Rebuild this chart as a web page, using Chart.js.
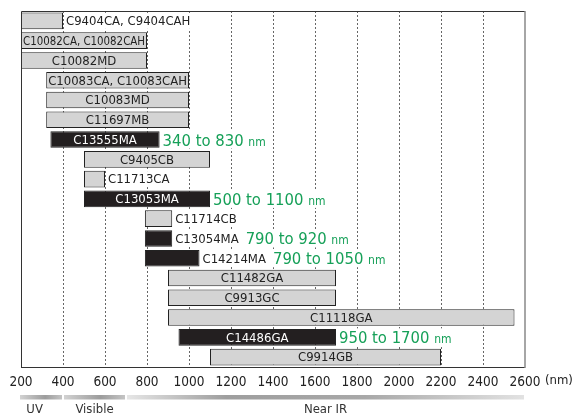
<!DOCTYPE html>
<html lang="en">
<head>
  <meta charset="UTF-8" />
  <title>Wavelength ranges</title>
  <script src="https://cdn.jsdelivr.net/npm/chart.js@4"></script>
  <style>
    body { margin: 0; background: #fff; }
    canvas { display: block; }
  </style>
</head>
<body>
  <canvas id="grafico" width="577" height="418"></canvas>

  <script>
    // data (nm)
    const products = ['C9404CA, C9404CAH', 'C10082CA, C10082CAH', 'C10082MD', 'C10083CA, C10083CAH',
      'C10083MD', 'C11697MB', 'C13555MA', 'C9405CB', 'C11713CA', 'C13053MA', 'C11714CB',
      'C13054MA', 'C14214MA', 'C11482GA', 'C9913GC', 'C11118GA', 'C14486GA', 'C9914GB'];
    const rangeStart = [200, 200, 200, 320, 320, 320, 340, 500, 500, 500, 790, 790, 790, 900, 900, 900, 950, 1100];
    const rangeEnd = [400, 800, 800, 1000, 1000, 1000, 860, 1100, 600, 1100, 920, 920, 1050, 1700, 1700, 2550, 1700, 2200];
    const isDark = [0, 0, 0, 0, 0, 0, 1, 0, 0, 1, 0, 1, 1, 0, 0, 0, 1, 0];
    const rangeNotes = ['', '', '', '', '', '', '340 to 830', '', '', '500 to 1100', '', '790 to 920',
      '790 to 1050', '', '', '', '950 to 1700', ''];
    const xTicks = [200, 400, 600, 800, 1000, 1200, 1400, 1600, 1800, 2000, 2200, 2400, 2600];
    const bandNames = ['UV', 'Visible', 'Near IR'];
    const bandFrom = [200, 400, 700];
    const bandTo = [400, 700, 2600];

    const FONT = '"DejaVu Sans Condensed", "DejaVu Sans", sans-serif';
    const GREEN = '#16a058';

    const etiquetas = {
      id: 'etiquetas',
      afterDatasetsDraw(chart) {
        const ctx = chart.ctx;
        const meta = chart.getDatasetMeta(0);
        ctx.save();
        ctx.font = '13px ' + FONT;
        ctx.textBaseline = 'middle';
        meta.data.forEach((bar, i) => {
          const left = Math.min(bar.x, bar.base);
          const right = Math.max(bar.x, bar.base);
          const txt = products[i];
          const w = ctx.measureText(txt).width;
          let nx = right + 3;
          if (w <= (right - left) * 1.15) {
            // squeeze a little if needed, like the original
            ctx.fillStyle = isDark[i] ? '#fff' : '#222';
            ctx.textAlign = 'center';
            ctx.fillText(txt, (left + right) / 2, bar.y + 1, right - left - 4);
          } else {
            ctx.fillStyle = '#fff';
            ctx.fillRect(right + 2, bar.y - 8, w + 3, 16);
            ctx.fillStyle = '#222';
            ctx.textAlign = 'left';
            ctx.fillText(txt, right + 3, bar.y + 1);
            nx = right + 3 + w + 7;
          }
          if (rangeNotes[i]) {
            ctx.textAlign = 'left';
            ctx.textBaseline = 'alphabetic';
            ctx.font = '16.5px ' + FONT;
            const w1 = ctx.measureText(rangeNotes[i] + ' ').width;
            ctx.font = '12px ' + FONT;
            const w2 = ctx.measureText('nm').width;
            ctx.fillStyle = '#fff';
            ctx.fillRect(nx - 1, bar.y - 9, w1 + w2 + 2, 18);
            ctx.fillStyle = GREEN;
            ctx.font = '16.5px ' + FONT;
            ctx.fillText(rangeNotes[i], nx, bar.y + 6);
            ctx.font = '12px ' + FONT;
            ctx.fillText('nm', nx + w1, bar.y + 6);
            ctx.font = '13px ' + FONT;
            ctx.textBaseline = 'middle';
          }
        });

        // frame
        const a = chart.chartArea;
        ctx.strokeStyle = '#333';
        ctx.lineWidth = 1;
        ctx.beginPath();
        ctx.moveTo(a.left + 0.5, a.bottom);
        ctx.lineTo(a.left + 0.5, a.top + 0.5);
        ctx.lineTo(a.right, a.top + 0.5);
        ctx.moveTo(a.left, a.bottom + 0.5);
        ctx.lineTo(a.right, a.bottom + 0.5);
        ctx.stroke();
        ctx.strokeStyle = '#888';
        ctx.lineWidth = 1.5;
        ctx.beginPath();
        ctx.moveTo(a.right, a.top);
        ctx.lineTo(a.right, a.bottom + 1);
        ctx.stroke();

        // unit after the last tick
        const xs = chart.scales.x;
        ctx.fillStyle = '#222';
        ctx.font = '13px ' + FONT;
        ctx.textAlign = 'left';
        ctx.textBaseline = 'middle';
        ctx.fillText('(nm)', xs.getPixelForValue(2600) + 20, a.bottom + 14);

        // spectral bands underneath
        const y0 = a.bottom + 28;
        bandNames.forEach((name, i) => {
          const x1 = xs.getPixelForValue(bandFrom[i]) + (i ? 1 : -1);
          const x2 = xs.getPixelForValue(bandTo[i]) - 1;
          const g = ctx.createLinearGradient(x1, 0, x2, 0);
          if (i < 2) {
            g.addColorStop(0, '#d2d2d2');
            g.addColorStop(0.6, '#9c9c9c');
            g.addColorStop(1, '#c4c4c4');
          } else {
            g.addColorStop(0, '#e6e6e6');
            g.addColorStop(0.25, '#9e9e9e');
            g.addColorStop(0.6, '#a8a8a8');
            g.addColorStop(1, '#e2e2e2');
          }
          ctx.fillStyle = g;
          ctx.fillRect(x1, y0, x2 - x1, 4.5);
        });
        const labelAt = [265, 550, 1650];
        ctx.fillStyle = '#333';
        ctx.font = '13px ' + FONT;
        ctx.textAlign = 'center';
        bandNames.forEach((name, i) => {
          ctx.fillText(name, xs.getPixelForValue(labelAt[i]), y0 + 15);
        });
        ctx.restore();
      }
    };

    new Chart(document.getElementById('grafico'), {
      type: 'bar',
      data: {
        labels: products,
        datasets: [{
          data: products.map((p, i) => [rangeStart[i], rangeEnd[i]]),
          backgroundColor: isDark.map(d => d ? '#231f20' : '#d4d4d4'),
          borderColor: '#222',
          borderWidth: 1,
          borderSkipped: false,
          categoryPercentage: 1,
          barPercentage: 0.84
        }]
      },
      options: {
        indexAxis: 'y',
        responsive: false,
        animation: false,
        layout: { padding: { left: 21, right: 52, top: 11, bottom: 0 } },
        plugins: { legend: { display: false }, tooltip: { enabled: false } },
        scales: {
          y: { display: false },
          x: {
            min: 200,
            max: 2600,
            afterBuildTicks: s => { s.ticks = xTicks.map(v => ({ value: v })); },
            afterFit: s => { s.height = 51; },
            ticks: {
              color: '#222',
              font: { family: FONT, size: 13.5 },
              padding: 7,
              maxRotation: 0,
              autoSkip: false,
              callback: v => String(v)
            },
            grid: {
              drawTicks: false,
              color: c => (c.tick && (c.tick.value === 200 || c.tick.value === 2600)) ? 'rgba(0,0,0,0)' : '#666',
              lineWidth: 1
            },
            border: { display: false, dash: [2, 2] }
          }
        }
      },
      plugins: [etiquetas]
    });
  </script>
</body>
</html>
